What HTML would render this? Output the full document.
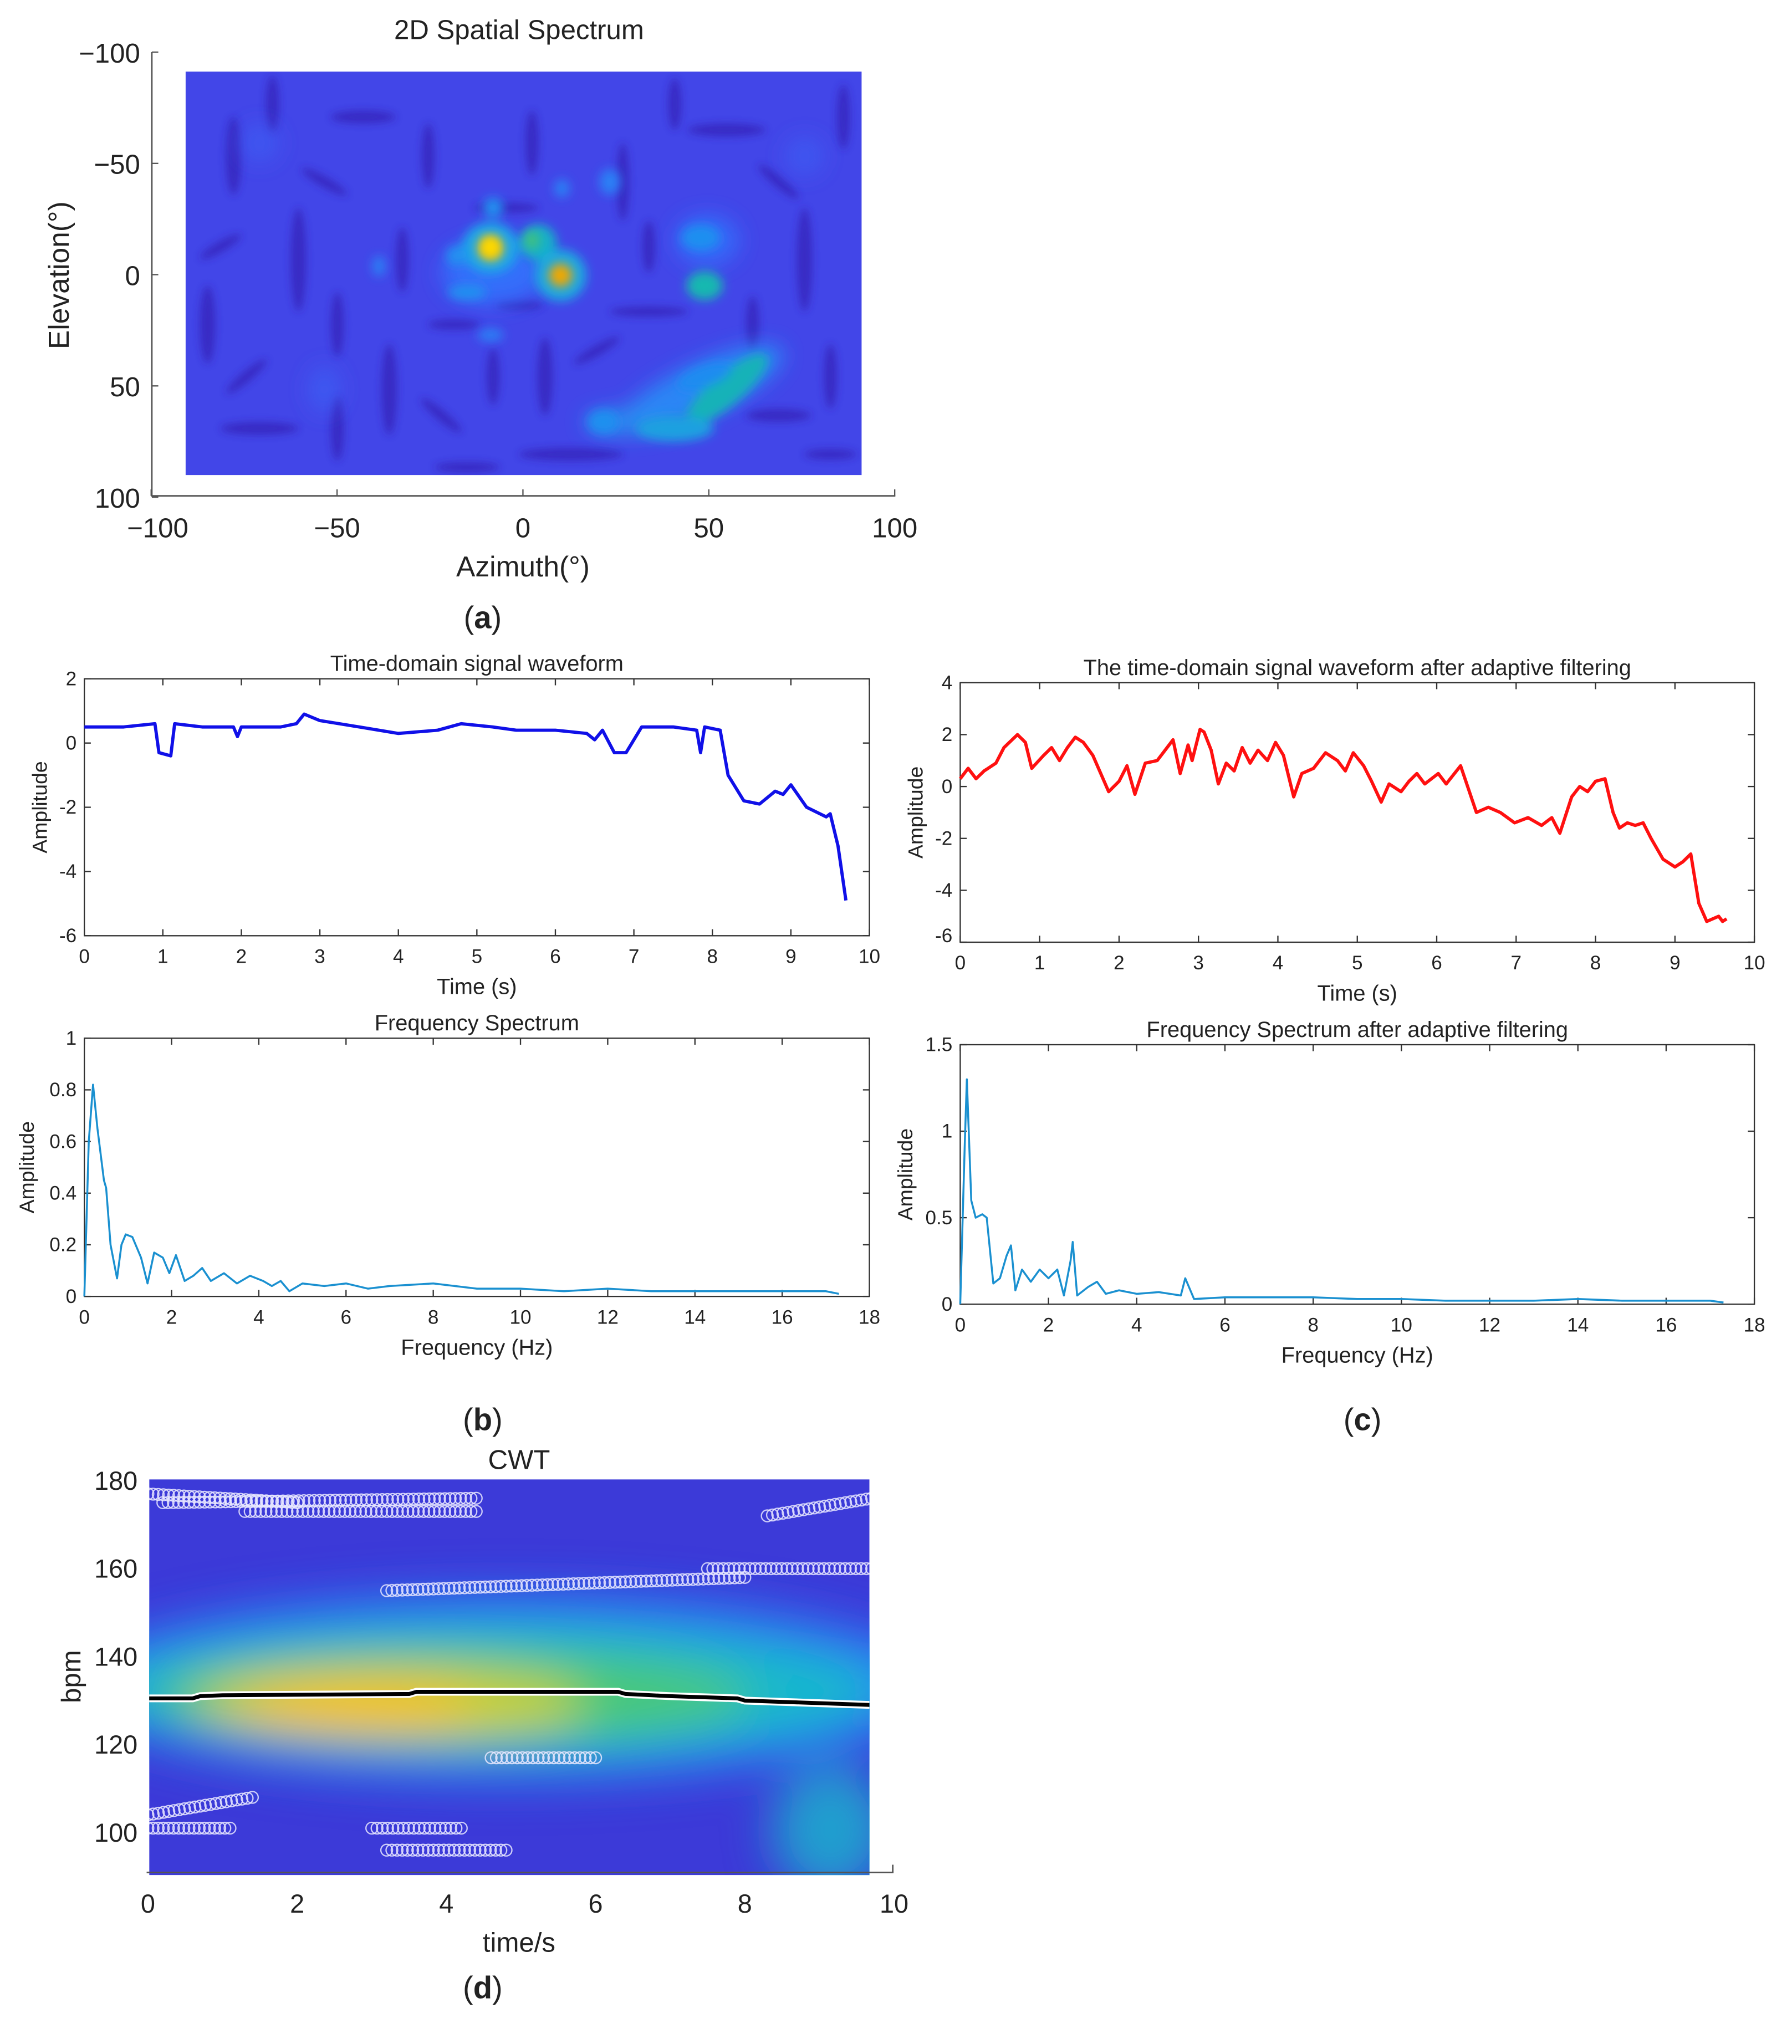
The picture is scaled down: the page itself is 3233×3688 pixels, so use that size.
<!DOCTYPE html>
<html><head><meta charset="utf-8"><style>
html,body{margin:0;padding:0;background:#fff;}
svg{display:block;}
text{font-family:"Liberation Sans",sans-serif;fill:#222;}
</style></head><body>
<svg id="fig" xmlns="http://www.w3.org/2000/svg" width="3233" height="3688" viewBox="0 0 1381 1575">
<defs>
  <filter id="blur8" x="-50%" y="-50%" width="200%" height="200%"><feGaussianBlur stdDeviation="8"/></filter>
  <filter id="blur4" x="-50%" y="-50%" width="200%" height="200%"><feGaussianBlur stdDeviation="4"/></filter>
  <filter id="blur3" x="-50%" y="-50%" width="200%" height="200%"><feGaussianBlur stdDeviation="3"/></filter>
  <filter id="blur20" x="-50%" y="-50%" width="200%" height="200%"><feGaussianBlur stdDeviation="18"/></filter>
  <clipPath id="clipA"><rect x="143" y="55" width="521" height="311"/></clipPath>
  <clipPath id="clipD"><rect x="115" y="1140" width="555" height="305"/></clipPath>
</defs>

<g>
  <text x="400" y="30" font-size="21" text-anchor="middle">2D Spatial Spectrum</text>
  <g clip-path="url(#clipA)">
    <rect x="143" y="55" width="521" height="311" fill="#4246e8"/>
    <g filter="url(#blur3)" fill="#3520b8" opacity="0.75">
      <ellipse cx="180" cy="120" rx="6" ry="30"/><ellipse cx="230" cy="200" rx="6" ry="40"/>
      <ellipse cx="280" cy="90" rx="25" ry="5"/><ellipse cx="300" cy="300" rx="6" ry="35"/>
      <ellipse cx="200" cy="330" rx="30" ry="5"/><ellipse cx="350" cy="250" rx="20" ry="4"/>
      <ellipse cx="420" cy="290" rx="6" ry="30"/><ellipse cx="480" cy="140" rx="5" ry="30"/>
      <ellipse cx="560" cy="100" rx="30" ry="5"/><ellipse cx="620" cy="200" rx="6" ry="40"/>
      <ellipse cx="600" cy="320" rx="25" ry="5"/><ellipse cx="390" cy="160" rx="25" ry="4"/>
      <ellipse cx="260" cy="250" rx="5" ry="25"/><ellipse cx="500" cy="240" rx="30" ry="4"/>
      <ellipse cx="160" cy="250" rx="6" ry="30"/><ellipse cx="440" cy="350" rx="40" ry="5"/>
      <ellipse cx="330" cy="120" rx="5" ry="25"/><ellipse cx="640" cy="290" rx="5" ry="25"/>
      <ellipse cx="210" cy="80" rx="5" ry="22"/><ellipse cx="250" cy="140" rx="20" ry="4" transform="rotate(30 250 140)"/>
      <ellipse cx="170" cy="190" rx="18" ry="4" transform="rotate(-30 170 190)"/>
      <ellipse cx="260" cy="330" rx="5" ry="25"/><ellipse cx="340" cy="320" rx="20" ry="4" transform="rotate(40 340 320)"/>
      <ellipse cx="380" cy="290" rx="5" ry="22"/><ellipse cx="460" cy="270" rx="20" ry="4" transform="rotate(-30 460 270)"/>
      <ellipse cx="520" cy="80" rx="5" ry="20"/><ellipse cx="600" cy="140" rx="20" ry="4" transform="rotate(40 600 140)"/>
      <ellipse cx="650" cy="90" rx="5" ry="25"/><ellipse cx="580" cy="250" rx="5" ry="22"/>
      <ellipse cx="310" cy="200" rx="5" ry="25"/><ellipse cx="410" cy="110" rx="5" ry="25"/>
      <ellipse cx="400" cy="235" rx="18" ry="4"/><ellipse cx="360" cy="360" rx="25" ry="4"/>
      <ellipse cx="190" cy="290" rx="20" ry="4" transform="rotate(-40 190 290)"/>
      <ellipse cx="640" cy="350" rx="20" ry="4"/><ellipse cx="500" cy="190" rx="5" ry="20"/>
    </g>
    <g filter="url(#blur8)">
      <ellipse cx="380" cy="210" rx="40" ry="25" fill="#2f78ff" opacity="0.8"/>
      <ellipse cx="545" cy="185" rx="25" ry="20" fill="#2f78ff" opacity="0.7"/>
      <ellipse cx="540" cy="300" rx="70" ry="20" fill="#2a86f5" transform="rotate(-25 540 300)"/>
      <ellipse cx="480" cy="325" rx="30" ry="10" fill="#2a8cf0"/>
      <ellipse cx="250" cy="300" rx="12" ry="18" fill="#3a60f5" opacity="0.7"/>
      <ellipse cx="200" cy="110" rx="15" ry="15" fill="#3a60f5" opacity="0.6"/>
      <ellipse cx="620" cy="120" rx="15" ry="15" fill="#3a60f5" opacity="0.6"/>
    </g>
    <g filter="url(#blur4)">
      <ellipse cx="378" cy="191" rx="22" ry="20" fill="#1aa5e8"/>
      <ellipse cx="415" cy="187" rx="14" ry="14" fill="#19b0c8"/>
      <ellipse cx="432" cy="212" rx="20" ry="20" fill="#1aa8e0"/>
      <ellipse cx="543" cy="220" rx="14" ry="11" fill="#16b8b0"/>
      <ellipse cx="540" cy="183" rx="15" ry="10" fill="#1e8ff0"/>
      <ellipse cx="380" cy="160" rx="8" ry="8" fill="#2090f0"/>
      <ellipse cx="360" cy="225" rx="15" ry="6" fill="#2090f0"/>
      <ellipse cx="352" cy="197" rx="8" ry="8" fill="#2090f0"/>
      <ellipse cx="560" cy="300" rx="40" ry="12" fill="#18b2b8" transform="rotate(-40 560 300)"/>
      <ellipse cx="520" cy="330" rx="30" ry="10" fill="#1aa0e0"/>
      <ellipse cx="465" cy="325" rx="12" ry="9" fill="#1f90ef"/>
      <ellipse cx="543" cy="290" rx="22" ry="8" fill="#1f8cf0" transform="rotate(-20 543 290)"/>
      <ellipse cx="470" cy="140" rx="8" ry="10" fill="#2a80f5"/>
      <ellipse cx="433" cy="145" rx="6" ry="7" fill="#2a80f5"/>
      <ellipse cx="292" cy="205" rx="5" ry="8" fill="#2a80f5"/>
      <ellipse cx="378" cy="258" rx="10" ry="5" fill="#2a80f5"/>
    </g>
    <g filter="url(#blur4)">
      <ellipse cx="378" cy="191" rx="10" ry="10" fill="#f8c800"/>
      <ellipse cx="432" cy="212" rx="9" ry="9" fill="#f0a800"/>
      <ellipse cx="410" cy="185" rx="6" ry="7" fill="#40c080"/>
    </g>
    <ellipse cx="378" cy="190" rx="5" ry="6" fill="#ffe000" filter="url(#blur4)"/>
  </g>
  <g id="axesA"></g>
  <text x="403" y="444" font-size="22" text-anchor="middle">Azimuth(°)</text>
  <text transform="translate(53 212) rotate(-90)" font-size="22" text-anchor="middle">Elevation(°)</text>
  <text x="372" y="484" font-size="24" text-anchor="middle" font-family="Liberation Serif">(<tspan font-weight="bold">a</tspan>)</text>
</g>

<g id="pB1"></g>
<g id="pC1"></g>
<g id="pB2"></g>
<g id="pC2"></g>
<text x="372" y="1102" font-size="24" text-anchor="middle" font-family="Liberation Serif">(<tspan font-weight="bold">b</tspan>)</text>
<text x="1050" y="1102" font-size="24" text-anchor="middle" font-family="Liberation Serif">(<tspan font-weight="bold">c</tspan>)</text>

<g>
  <text x="400" y="1132" font-size="21" text-anchor="middle">CWT</text>
  <g clip-path="url(#clipD)">
    <rect x="115" y="1140" width="555" height="305" fill="#3c3ad8"/>
    <g filter="url(#blur20)">
      <ellipse cx="390" cy="1300" rx="340" ry="72" fill="#2c82f4"/>
      <ellipse cx="380" cy="1303" rx="300" ry="52" fill="#18b8cc"/>
      <ellipse cx="640" cy="1410" rx="45" ry="50" fill="#18b8cc" opacity="0.8"/>
      <ellipse cx="350" cy="1307" rx="230" ry="36" fill="#48c878"/>
      <ellipse cx="300" cy="1312" rx="150" ry="26" fill="#d0d028"/>
      <ellipse cx="275" cy="1314" rx="90" ry="17" fill="#ffc010"/>
    </g>
    <g id="cwtMarks"></g>
  </g>
  <g id="axesD"></g>
  <text x="400" y="1504" font-size="21" text-anchor="middle">time/s</text>
  <text transform="translate(62 1292) rotate(-90)" font-size="21" text-anchor="middle">bpm</text>
  <text x="372" y="1540" font-size="24" text-anchor="middle" font-family="Liberation Serif">(<tspan font-weight="bold">d</tspan>)</text>
</g>
</svg>
<script>
const timeT = [0,0.5,0.9,0.95,1.1,1.15,1.5,1.9,1.95,2.0,2.5,2.7,2.8,3.0,3.5,4.0,4.5,4.8,5.2,5.5,6.0,6.4,6.5,6.6,6.75,6.9,7.1,7.5,7.8,7.85,7.9,8.1,8.2,8.4,8.6,8.8,8.9,9.0,9.2,9.45,9.5,9.6,9.7];
const timeV = [0.5,0.5,0.6,-0.3,-0.4,0.6,0.5,0.5,0.2,0.5,0.5,0.6,0.9,0.7,0.5,0.3,0.4,0.6,0.5,0.4,0.4,0.3,0.1,0.4,-0.3,-0.3,0.5,0.5,0.4,-0.3,0.5,0.4,-1.0,-1.8,-1.9,-1.5,-1.6,-1.3,-2.0,-2.3,-2.2,-3.2,-4.9];
const filtT = [0,0.1,0.2,0.3,0.45,0.55,0.72,0.82,0.9,1.05,1.15,1.25,1.35,1.45,1.55,1.67,1.77,1.87,2.0,2.1,2.2,2.33,2.48,2.68,2.77,2.87,2.92,3.02,3.07,3.16,3.25,3.35,3.45,3.55,3.65,3.75,3.87,3.97,4.07,4.2,4.3,4.45,4.6,4.75,4.85,4.95,5.08,5.18,5.3,5.4,5.55,5.65,5.75,5.85,6.02,6.12,6.3,6.5,6.65,6.8,6.98,7.15,7.32,7.45,7.55,7.7,7.8,7.9,8.0,8.12,8.22,8.3,8.4,8.5,8.6,8.7,8.85,9.0,9.1,9.2,9.3,9.4,9.55,9.6,9.65];
const filtV = [0.3,0.7,0.3,0.6,0.9,1.5,2.0,1.7,0.7,1.2,1.5,1.0,1.5,1.9,1.7,1.2,0.5,-0.2,0.2,0.8,-0.3,0.9,1.0,1.8,0.5,1.6,1.0,2.2,2.1,1.4,0.1,0.9,0.6,1.5,0.9,1.4,1.0,1.7,1.2,-0.4,0.5,0.7,1.3,1.0,0.6,1.3,0.8,0.2,-0.6,0.1,-0.2,0.2,0.5,0.1,0.5,0.1,0.8,-1.0,-0.8,-1.0,-1.4,-1.2,-1.5,-1.2,-1.8,-0.4,0.0,-0.2,0.2,0.3,-1.0,-1.6,-1.4,-1.5,-1.4,-2.0,-2.8,-3.1,-2.9,-2.6,-4.5,-5.2,-5.0,-5.2,-5.1];
const specF = [0,0.1,0.2,0.3,0.45,0.5,0.6,0.75,0.85,0.95,1.1,1.3,1.45,1.6,1.8,1.95,2.1,2.3,2.5,2.7,2.9,3.2,3.5,3.8,4.1,4.3,4.5,4.7,5,5.5,6,6.5,7,8,9,10,11,12,13,14,15,16,17,17.3];
const specA = [0,0.6,0.82,0.65,0.45,0.42,0.2,0.07,0.2,0.24,0.23,0.15,0.05,0.17,0.15,0.09,0.16,0.06,0.08,0.11,0.06,0.09,0.05,0.08,0.06,0.04,0.06,0.02,0.05,0.04,0.05,0.03,0.04,0.05,0.03,0.03,0.02,0.03,0.02,0.02,0.02,0.02,0.02,0.01];
const fspecF = [0,0.1,0.15,0.25,0.35,0.5,0.6,0.75,0.9,1.05,1.15,1.25,1.4,1.6,1.8,2.0,2.2,2.35,2.5,2.55,2.65,2.9,3.1,3.3,3.6,4,4.5,5.0,5.1,5.3,6,7,8,9,10,11,12,13,14,15,16,17,17.3];
const fspecA = [0,0.9,1.3,0.6,0.5,0.52,0.5,0.12,0.15,0.28,0.34,0.08,0.2,0.13,0.2,0.15,0.2,0.05,0.25,0.36,0.05,0.1,0.13,0.06,0.08,0.06,0.07,0.05,0.15,0.03,0.04,0.04,0.04,0.03,0.03,0.02,0.02,0.02,0.03,0.02,0.02,0.02,0.01];
const ridgeT = [0,0.6,0.7,1.0,3.5,3.6,6.3,6.4,7.0,7.9,8.0,9.7];
const ridgeB = [130.5,130.5,131,131.2,131.5,132,132,131.5,131,130.5,130,129];
const rowT0 = [0.0,0.2,1.3,3.2,7.5,8.3,4.6,0.0,0.0,3.0,3.2];
const rowT1 = [2.0,4.4,4.4,8.0,9.7,9.7,6.0,1.4,1.1,4.2,4.8];
const rowB0 = [177,175,173,155,160,172,117,104,101,101,96];
const rowB1 = [175,176,173,158,160,176,117,108,101,101,96];
const aTicks = [-100,-50,0,50,100];

const NS="http://www.w3.org/2000/svg";
function mk(tag,attrs,parent){const e=document.createElementNS(NS,tag);for(const k in attrs)e.setAttribute(k,attrs[k]);parent.appendChild(e);return e;}
function txt(s,x,y,size,anchor,parent){const t=mk('text',{x:x,y:y,'font-size':size,'text-anchor':anchor},parent);t.textContent=s;return t;}

(function(){
  const g=document.getElementById('axesA');
  const xs=v=>403+v*2.865, ys=v=>211.5+v*1.715;
  mk('path',{d:'M117 40 L117 382 L690 382',fill:'none',stroke:'#555','stroke-width':1.2},g);
  aTicks.forEach(v=>{
    const y=ys(v),x=xs(v);
    mk('line',{x1:117,y1:y,x2:122,y2:y,stroke:'#555'},g);
    mk('line',{x1:x,y1:382,x2:x,y2:377,stroke:'#555'},g);
    const ty=txt(String(v).replace('-','\u2212'),108,y+8,21,'end',g);
    
    
    const tx=txt(String(v).replace('-','\u2212'),x+(v===-100?5:0),414,21,'middle',g);
    
    
  });
})();

function linePanel(id,o){
  const g=document.getElementById(id);
  const xs=v=>o.x0+(v-o.xmin)/(o.xmax-o.xmin)*(o.x1-o.x0);
  const ys=v=>o.y1-(v-o.ymin)/(o.ymax-o.ymin)*(o.y1-o.y0);
  mk('rect',{x:o.x0,y:o.y0,width:o.x1-o.x0,height:o.y1-o.y0,fill:'#fff',stroke:'#333','stroke-width':1},g);
  o.xt.forEach(v=>{const x=xs(v);
    mk('line',{x1:x,y1:o.y1,x2:x,y2:o.y1-5,stroke:'#333'},g);mk('line',{x1:x,y1:o.y0,x2:x,y2:o.y0+5,stroke:'#333'},g);
    const t=txt(String(v),x,o.y1+21,15,'middle',g);
    
    });
  o.yt.forEach(v=>{const y=ys(v);
    mk('line',{x1:o.x0,y1:y,x2:o.x0+5,y2:y,stroke:'#333'},g);mk('line',{x1:o.x1,y1:y,x2:o.x1-5,y2:y,stroke:'#333'},g);
    const t=txt(String(v),o.x0-6,y+(v===o.ymin&&o.lowShift?0:5),15,'end',g);
    
    });
  const tt=txt(o.title,(o.x0+o.x1)/2,o.y0-6,17,'middle',g);
  
  
  const xl=txt(o.xlabel,(o.x0+o.x1)/2,o.y1+45,17,'middle',g);
  
  
  const yl=txt('Amplitude',0,0,16,'middle',g);
  yl.setAttribute('transform','translate('+o.ylx+' '+(o.y0+o.y1)/2+') rotate(-90)');
  
  
  const d=o.X.map((v,i)=>(i?'L':'M')+xs(v).toFixed(1)+' '+ys(o.Y[i]).toFixed(1)).join(' ');
  const p=mk('path',{d:d,fill:'none',stroke:o.color,'stroke-width':o.w,'stroke-linejoin':'round'},g);
  
  
}
linePanel('pB1',{x0:65,x1:670,y0:523,y1:721,xmin:0,xmax:10,ymin:-6,ymax:2,xt:[0,1,2,3,4,5,6,7,8,9,10],yt:[-6,-4,-2,0,2],title:'Time-domain signal waveform',xlabel:'Time (s)',ylx:36,X:timeT,Y:timeV,color:'#1010e8',w:2.5});
linePanel('pC1',{x0:740,x1:1352,y0:526,y1:726,xmin:0,xmax:10,ymin:-6,ymax:4,xt:[0,1,2,3,4,5,6,7,8,9,10],yt:[-6,-4,-2,0,2,4],title:'The time-domain signal waveform after adaptive filtering',xlabel:'Time (s)',ylx:711,X:filtT,Y:filtV,color:'#ff1010',w:2.5,lowShift:true});
linePanel('pB2',{x0:65,x1:670,y0:800,y1:999,xmin:0,xmax:18,ymin:0,ymax:1,xt:[0,2,4,6,8,10,12,14,16,18],yt:[0,0.2,0.4,0.6,0.8,1],title:'Frequency Spectrum',xlabel:'Frequency (Hz)',ylx:26,X:specF,Y:specA,color:'#1a90d0',w:1.5});
linePanel('pC2',{x0:740,x1:1352,y0:805,y1:1005,xmin:0,xmax:18,ymin:0,ymax:1.5,xt:[0,2,4,6,8,10,12,14,16,18],yt:[0,0.5,1,1.5],title:'Frequency Spectrum after adaptive filtering',xlabel:'Frequency (Hz)',ylx:703,X:fspecF,Y:fspecA,color:'#1a90d0',w:1.5});

(function(){
  const xs=v=>114+v*57.5, ys=v=>1141+(180-v)*3.39;
  const g=document.getElementById('axesD');
  mk('path',{d:'M113 1443 L688 1443 L688 1437',fill:'none',stroke:'#555','stroke-width':1.2},g);
  [0,2,4,6,8,10].forEach(v=>{const t=txt(String(v),xs(v),1474,20,'middle',g);
    
    });
  [100,120,140,160,180].forEach(v=>{const t=txt(String(v),106,ys(v)+7,20,'end',g);
    
    });
  const m=document.getElementById('cwtMarks');
  rowT0.forEach((t0,r)=>{
    const t1=rowT1[r];const n=Math.max(2,Math.round((t1-t0)/0.07));
    for(let i=0;i<=n;i++){const t=t0+(t1-t0)*i/n;const b=rowB0[r]+(rowB1[r]-rowB0[r])*i/n;
      const c=mk('circle',{cx:xs(t),cy:ys(b),r:4.5,fill:'none',stroke:'#e8e8ff','stroke-width':1,opacity:0.85},m);
      
      }
  });
  const d=ridgeT.map((v,i)=>(i?'L':'M')+xs(v).toFixed(1)+' '+ys(ridgeB[i]).toFixed(1)).join(' ');
  mk('path',{d:d,fill:'none',stroke:'#fff','stroke-width':6},m);
  const p=mk('path',{d:d,fill:'none',stroke:'#000','stroke-width':3},m);
  
  
})();
</script>
</body></html>
